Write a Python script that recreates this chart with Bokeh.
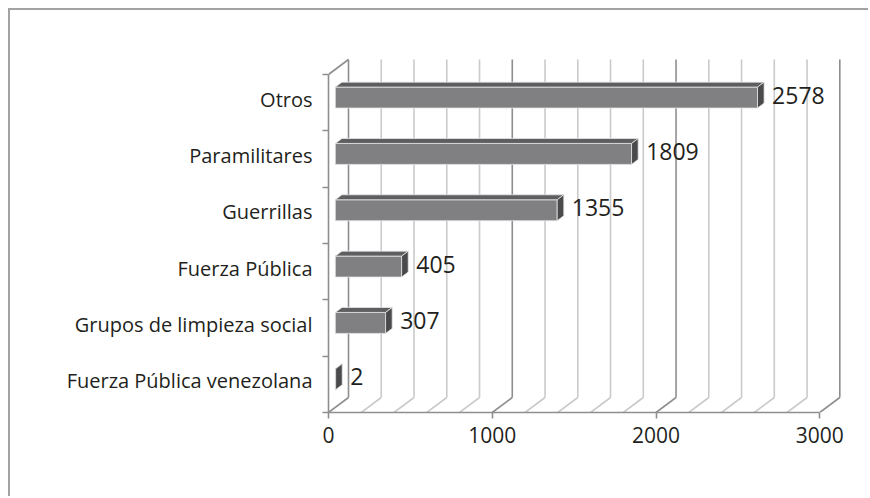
from bokeh.plotting import figure
from bokeh.models import Range1d, FixedTicker
from bokeh.core.properties import value
from bokeh.embed import file_html
from bokeh.resources import INLINE

# ---- data ----
categories = ["Fuerza Pública venezolana", "Grupos de limpieza social", "Fuerza Pública",
              "Guerrillas", "Paramilitares", "Otros"]
values = [2, 307, 405, 1355, 1809, 2578]
x_ticks = [0, 1000, 2000, 3000]
grid_values = list(range(0, 3001, 200))

# ---- geometry (pixels -> data units) ----
SX = 0.16377          # px per value unit
SY = 56.333           # px per category
DX = 20 / SX          # depth offset in x (data units)
DY = 15 / SY          # depth offset in y (data units)
F1, F2 = 0.34, 0.67   # bar front/back depth fractions
HALF = 0.186          # half bar height (category units)
n = len(categories)

FONT = "Open Sans"
TXT = "#231f20"
AX = "#8e8e8e"
frame_w, frame_h = 524, 362
p = figure(width=860, height=488, output_backend="svg", toolbar_location=None,
           x_range=Range1d(0, frame_w / SX), y_range=Range1d(0, frame_h / SY),
           min_border_left=318, min_border_right=18, min_border_top=40, min_border_bottom=86)
p.margin = (8, 0, 0, 8)
p.styles = {"border-top": "2px solid #a2a2a2", "border-left": "2px solid #a2a2a2"}
p.outline_line_color = None
p.xgrid.visible = False
p.ygrid.visible = False
p.background_fill_color = "white"
p.border_fill_color = "white"

# back wall + floor grid lines
for g in grid_values:
    major = g % 1000 == 0
    col = AX if major else "#cacaca"
    p.segment(x0=[g + DX], y0=[DY], x1=[g + DX], y1=[n + DY], line_color=col, line_width=1.6)
    p.segment(x0=[g], y0=[0], x1=[g + DX], y1=[DY], line_color=col, line_width=1.6)
# left wall top edge
p.segment(x0=[0], y0=[n], x1=[DX], y1=[n + DY], line_color=AX, line_width=1.6)

# 3D bars
a1, a2 = F1 * DX, F2 * DX
b1, b2 = F1 * DY, F2 * DY
front_xs, front_ys, top_xs, top_ys, side_xs, side_ys = [], [], [], [], [], []
lab_x, lab_y, lab_t = [], [], []
for i, v in enumerate(values):
    c = i + 0.5
    lo, hi = c - HALF, c + HALF
    front_xs.append([a1, v + a1, v + a1, a1])
    front_ys.append([lo + b1, lo + b1, hi + b1, hi + b1])
    top_xs.append([a1, v + a1, v + a2, a2])
    top_ys.append([hi + b1, hi + b1, hi + b2, hi + b2])
    side_xs.append([v + a1, v + a2, v + a2, v + a1])
    side_ys.append([lo + b1, lo + b2, hi + b2, hi + b1])
    lab_x.append(v + a2)
    lab_y.append(c + (b1 + b2) / 2)
    lab_t.append(str(v))

p.patches(front_xs, front_ys, fill_color="#808082", line_color="#e6e6e6", line_width=0.8)
p.patches(top_xs, top_ys, fill_color="#5e5e60", line_color="#e6e6e6", line_width=0.8)
p.patches(side_xs, side_ys, fill_color="#4a4a4c", line_color="#e6e6e6", line_width=0.8)

p.text(x=lab_x, y=lab_y, text=lab_t, x_offset=8, text_baseline="middle", text_align="left",
       text_font=value(FONT), text_font_size="23px", text_color=TXT)

# x axis
xa = p.xaxis[0]
xa.ticker = FixedTicker(ticks=x_ticks)
xa.bounds = (0, 3000)
xa.axis_line_color = AX
xa.axis_line_width = 1.6
xa.major_tick_line_color = AX
xa.major_tick_line_width = 1.6
xa.major_tick_in = 0
xa.major_tick_out = 6
xa.minor_tick_line_color = None
xa.major_label_text_font = FONT
xa.major_label_text_font_size = "21px"
xa.major_label_text_color = TXT
xa.major_label_standoff = 8

# y axis (labels at category centres, ticks at boundaries)
ya = p.yaxis[0]
centers = [i + 0.5 for i in range(n)]
label_pos = [c + 0.06 for c in centers]
ya.ticker = FixedTicker(ticks=label_pos, minor_ticks=list(range(n + 1)))
ya.major_label_overrides = {c: categories[i] for i, c in enumerate(label_pos)}
ya.bounds = (0, n)
ya.axis_line_color = AX
ya.axis_line_width = 1.6
ya.major_tick_line_color = None
ya.minor_tick_line_color = AX
ya.minor_tick_line_width = 1.6
ya.minor_tick_in = 0
ya.minor_tick_out = 6
ya.major_label_text_font = FONT
ya.major_label_text_font_size = "20px"
ya.major_label_text_color = TXT
ya.major_label_standoff = 10

open("out.html", "w").write(file_html(p, INLINE))
